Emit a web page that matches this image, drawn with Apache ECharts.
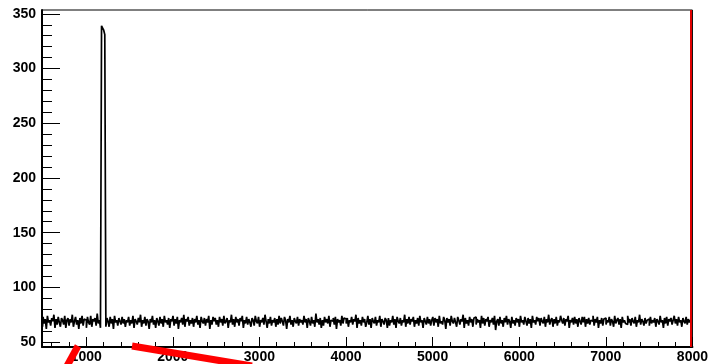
<!DOCTYPE html>
<html>
<head>
<meta charset="utf-8">
<script src="https://cdn.jsdelivr.net/npm/echarts@6/dist/echarts.min.js"></script>
<style>html,body{margin:0;padding:0;background:#fff}#c{width:711px;height:364px}</style>
</head>
<body>
<div id="c"></div>
<script>
// Histogram: bins of width 12.5 starting at 490
const binStart = 490;
const binWidth = 12.5;
const counts = [
64,73,67,71,62,74,68,70,65,72,69,75,63,71,66,73,68,64,72,70,
66,74,63,70,72,65,71,68,75,64,69,73,66,70,62,72,67,74,65,71,
70,63,73,68,66,74,64,71,69,72,65,76,67,70,63,339,337,335,331,64,
72,69,64,73,67,71,62,74,68,70,65,72,69,66,73,67,71,64,70,68,
73,65,70,67,74,63,71,69,66,72,68,75,64,70,67,73,65,71,69,62,
71,68,74,66,70,63,72,69,65,73,67,71,64,74,68,70,66,72,63,71,
69,74,65,71,67,73,62,70,68,72,66,75,64,71,69,73,65,70,67,72,
64,71,68,74,66,70,63,73,69,67,72,65,71,68,74,62,70,66,73,69,
72,66,70,64,73,68,71,65,74,67,69,72,63,70,68,75,66,71,64,73,
68,71,65,72,69,74,63,70,67,73,66,71,68,64,72,70,65,74,69,67,
73,64,70,68,72,66,75,69,63,71,67,73,65,70,68,72,64,71,66,74,
67,72,69,65,73,70,62,71,68,74,66,70,64,72,69,67,73,65,71,68,
70,66,74,68,71,63,72,69,65,73,67,70,64,76,68,71,66,72,63,70,
65,73,68,71,67,74,64,70,69,72,66,73,62,71,68,70,65,74,67,72,
71,67,72,64,70,68,73,66,71,69,75,63,72,67,70,65,73,68,71,64,
68,74,66,71,63,72,69,67,73,65,70,68,74,64,71,69,66,72,70,63,
72,65,70,68,74,66,71,63,73,69,67,72,65,70,68,75,64,71,67,73,
66,71,69,73,64,70,67,72,65,74,68,70,63,72,69,66,73,67,71,65,
70,73,65,72,68,71,64,74,67,69,66,73,70,62,72,68,71,65,74,69,
67,72,68,64,73,70,66,71,69,75,63,72,67,70,65,73,68,71,64,72,
73,66,71,68,70,63,74,67,72,65,71,69,73,64,70,68,72,66,74,61,
69,71,65,73,67,70,64,72,68,74,66,71,69,63,73,67,70,65,72,68,
71,64,74,68,70,66,73,69,65,72,67,71,63,74,68,70,66,73,69,72,
65,72,69,67,73,64,71,68,75,66,70,72,64,71,67,73,65,70,68,74,
70,67,72,65,71,69,74,63,70,68,72,66,73,67,71,64,72,69,66,73,
68,73,64,71,67,72,66,70,69,74,65,71,68,73,63,70,67,72,65,71,
72,66,70,68,73,65,71,69,64,74,67,70,72,66,71,63,73,68,70,67,
66,74,68,71,65,72,69,67,73,64,70,68,75,66,71,69,65,72,67,70,
71,65,73,67,70,68,72,64,71,69,66,74,68,70,63,72,67,73,65,71,
69,72,66,70,74,67,71,65,73,68,70,64,72,69,67,73,66,71,68,70
];
const xTickLabels = [1000,2000,3000,4000,5000,6000,7000,8000];
const xMinorTicks = [600,800,1200,1400,1600,1800,2200,2400,2600,2800,3200,3400,3600,3800,4200,4400,4600,4800,5200,5400,5600,5800,6200,6400,6600,6800,7200,7400,7600,7800];
const yTickLabels = [50,100,150,200,250,300,350];
const yMinorTicks = [60,70,80,90,110,120,130,140,160,170,180,190,210,220,230,240,260,270,280,290,310,320,330,340];
const xRange = [490, 8000];
const yRange = [45.5, 353.5];
const redMarkerX = 7985;

const data = counts.map((v, i) => [binStart + binWidth * (i + 0.5), v]);

const lblFont = {color:'#000', fontFamily:'Liberation Sans', fontWeight:'bold', fontSize:14};
const plain = v => String(v);

const chart = echarts.init(document.getElementById('c'), null, {renderer:'canvas'});
chart.setOption({
  animation:false,
  backgroundColor:'#fff',
  grid:{left:42, right:17, top:10, bottom:17, show:true, borderColor:'#000', borderWidth:1, containLabel:false},
  xAxis:[
    {type:'value', min:xRange[0], max:xRange[1], position:'bottom',
     axisLine:{show:true, lineStyle:{color:'#000', width:2}},
     axisTick:{show:true, inside:true, length:10, customValues:xTickLabels, lineStyle:{color:'#000', width:1}},
     axisLabel:Object.assign({show:true, margin:3, customValues:xTickLabels, formatter:plain}, lblFont),
     splitLine:{show:false}},
    {type:'value', min:xRange[0], max:xRange[1], position:'bottom',
     axisLine:{show:false},
     axisTick:{show:true, inside:true, length:5, customValues:xMinorTicks, lineStyle:{color:'#000', width:1}},
     axisLabel:{show:false}, splitLine:{show:false}}
  ],
  yAxis:[
    {type:'value', min:yRange[0], max:yRange[1], position:'left',
     axisLine:{show:true, lineStyle:{color:'#000', width:2}},
     axisTick:{show:true, inside:true, length:18, customValues:yTickLabels, lineStyle:{color:'#000', width:1}},
     axisLabel:Object.assign({show:true, margin:6, customValues:yTickLabels, formatter:plain}, lblFont),
     splitLine:{show:false}},
    {type:'value', min:yRange[0], max:yRange[1], position:'left',
     axisLine:{show:false},
     axisTick:{show:true, inside:true, length:10, customValues:yMinorTicks, lineStyle:{color:'#000', width:1}},
     axisLabel:{show:false}, splitLine:{show:false}}
  ],
  series:[{
    type:'line', xAxisIndex:0, yAxisIndex:0, data:data, step:'middle', symbol:'none',
    lineStyle:{color:'#000', width:1.7}, clip:true,
    markLine:{silent:true, symbol:['none','none'], label:{show:false},
      lineStyle:{color:'#e00000', width:2, type:'solid'},
      data:[{xAxis:redMarkerX}]}
  }],
  graphic:[
    {type:'line', z:100, shape:{x1:78, y1:346, x2:67, y2:366}, style:{stroke:'#ff0000', lineWidth:7}},
    {type:'line', z:100, shape:{x1:132, y1:346, x2:252, y2:366}, style:{stroke:'#ff0000', lineWidth:7}}
  ]
});
</script>
</body>
</html>
